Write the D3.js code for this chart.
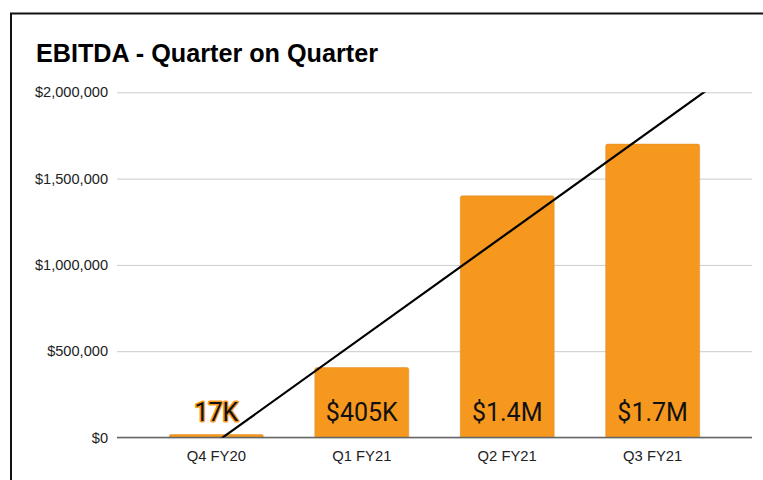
<!DOCTYPE html>
<html>
<head>
<meta charset="utf-8">
<script src="https://cdn.jsdelivr.net/npm/d3@7"></script>
<style>
  html, body { margin: 0; padding: 0; background: #fff; }
  svg { display: block; }
</style>
</head>
<body>
<svg id="chart" width="763" height="480"></svg>
<script>
const title = "EBITDA - Quarter on Quarter";
const categories = ["Q4 FY20", "Q1 FY21", "Q2 FY21", "Q3 FY21"];
const ebitdaValues = [17000, 405000, 1400000, 1700000];
const dataLabels = ["17K", "$405K", "$1.4M", "$1.7M"];
const yTicks = [0, 500000, 1000000, 1500000, 2000000];

const W = 763, H = 480;
const svg = d3.select("#chart");

// outer frame (extends beyond the viewport on right/bottom)
svg.append("rect")
  .attr("x", 11).attr("y", 13.5)
  .attr("width", 820).attr("height", 520)
  .attr("fill", "none").attr("stroke", "#111").attr("stroke-width", 2);

svg.append("text")
  .attr("x", 36).attr("y", 61.5)
  .attr("font-family", "Liberation Sans, Arial, sans-serif")
  .attr("font-weight", "bold")
  .attr("font-size", 25.2)
  .attr("fill", "#000")
  .text(title);

const plotL = 117, plotR = 752, plotT = 92.3, plotB = 437.5;

const x = d3.scaleBand().domain(categories).range([plotL, plotR])
  .paddingInner(0.354).paddingOuter(0.36);
const y = d3.scaleLinear().domain([0, 2000000]).range([plotB, plotT]);

// gridlines via axis
const yAxis = d3.axisLeft(y).tickValues(yTicks)
  .tickSize(-(plotR - plotL)).tickPadding(9)
  .tickFormat(d => "$" + d3.format(",")(d));
const gy = svg.append("g").attr("transform", `translate(${plotL},0)`).call(yAxis);
gy.select(".domain").remove();
gy.selectAll(".tick line").attr("stroke", "#cccccc").attr("stroke-width", 1);
gy.selectAll(".tick text")
  .attr("font-family", "Liberation Sans, Arial, sans-serif")
  .attr("font-size", 14.6).attr("fill", "#222");

// bars
svg.append("g").selectAll("path")
  .data(categories)
  .join("path")
  .attr("d", (c, i) => {
    const x0 = x(c), w = x.bandwidth(), y0 = y(ebitdaValues[i]), y1 = y(0);
    const r = Math.min(2, (y1 - y0) / 2);
    return `M${x0},${y1}V${y0 + r}Q${x0},${y0} ${x0 + r},${y0}H${x0 + w - r}Q${x0 + w},${y0} ${x0 + w},${y0 + r}V${y1}Z`;
  })
  .attr("fill", "#f7981e")
  .attr("stroke", "#d98a28").attr("stroke-width", 0.5);

// baseline axis
const xAxis = d3.axisBottom(x).tickSize(0).tickPadding(13);
const gx = svg.append("g").attr("transform", `translate(0,${plotB})`).call(xAxis);
gx.select(".domain").remove();
gx.selectAll(".tick text")
  .attr("font-family", "Liberation Sans, Arial, sans-serif")
  .attr("font-size", 14.8).attr("fill", "#222");
svg.append("line")
  .attr("x1", plotL).attr("x2", plotR)
  .attr("y1", plotB).attr("y2", plotB)
  .attr("stroke", "#666").attr("stroke-width", 1.5);

// data labels
const lbl = svg.append("g");
categories.forEach((c, i) => {
  const cx = x(c) + x.bandwidth() / 2;
  const inside = y(0) - y(ebitdaValues[i]) > 40;
  const t = lbl.append("text")
    .attr("x", cx).attr("y", y(0) - 16.5)
    .attr("text-anchor", "middle")
    .attr("font-family", "Roboto, sans-serif")
    .attr("font-size", 25)
    .attr("fill", "#111")
    .text(dataLabels[i]);
  if (!inside) {
    t.attr("stroke", "#f7981e").attr("stroke-width", 3)
      .attr("paint-order", "stroke").attr("stroke-linejoin", "round");
  }
});

// linear trendline (least squares over category index)
const n = ebitdaValues.length;
const mx = d3.mean(d3.range(n)), my = d3.mean(ebitdaValues);
const slope = d3.sum(d3.range(n), i => (i - mx) * (ebitdaValues[i] - my)) /
              d3.sum(d3.range(n), i => (i - mx) * (i - mx));
const intercept = my - slope * mx;
const c0 = x(categories[0]) + x.bandwidth() / 2;
const step = x.step();
const idx = d3.scaleLinear().domain([0, 1]).range([c0, c0 + step]);
const iStart = idx.invert(plotL), iEnd = idx.invert(plotR);

svg.append("clipPath").attr("id", "plotclip")
  .append("rect").attr("x", plotL).attr("y", plotT)
  .attr("width", plotR - plotL).attr("height", plotB - plotT);

svg.append("line")
  .attr("clip-path", "url(#plotclip)")
  .attr("x1", idx(iStart)).attr("y1", y(intercept + slope * iStart))
  .attr("x2", idx(iEnd)).attr("y2", y(intercept + slope * iEnd))
  .attr("stroke", "#000").attr("stroke-width", 2.2);
</script>
</body>
</html>
